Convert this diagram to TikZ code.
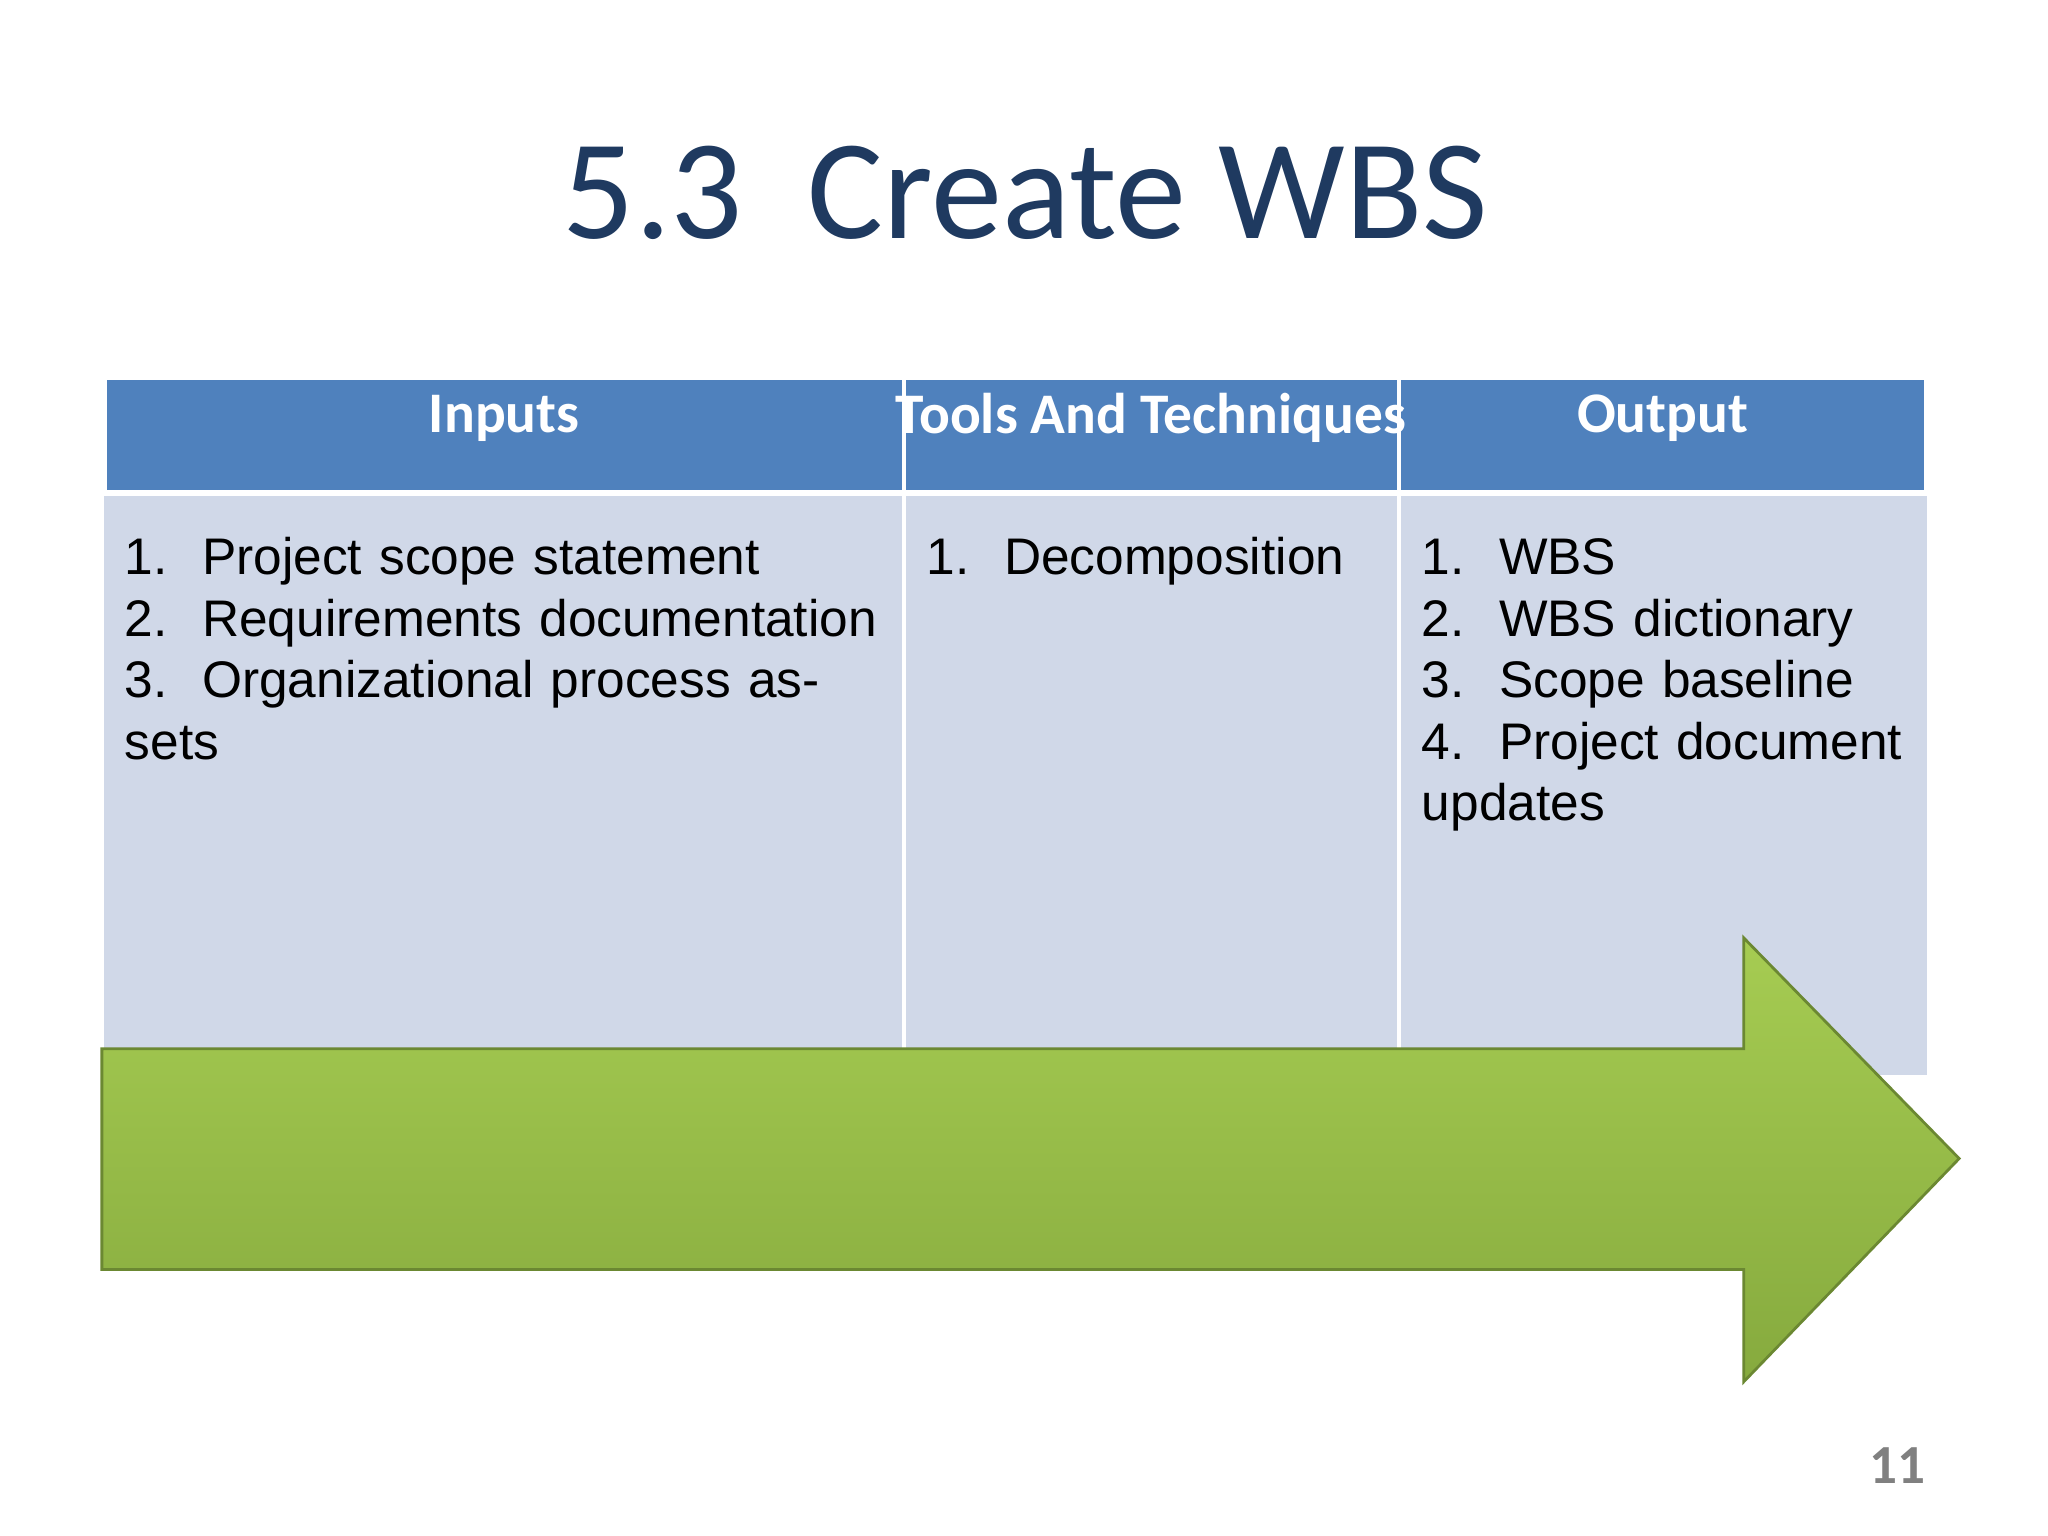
\documentclass[tikz,border=0pt]{standalone}
\usepackage{fontspec}
\setmainfont{Carlito}
\newfontfamily\arialf{Liberation Sans}
\usetikzlibrary{positioning}
\definecolor{titleblue}{HTML}{1F3A60}
\definecolor{headblue}{HTML}{4F81BD}
\definecolor{cellblue}{HTML}{D0D8E8}
\definecolor{arrowtop}{HTML}{A6CC52}
\definecolor{arrowbot}{HTML}{86AA3E}
\newcommand{\itm}[2]{\par\hangindent=0.59cm\hangafter=1\noindent\makebox[0.59cm][l]{#1.}#2}

\begin{document}
\begin{tikzpicture}[
            x = 0.01cm,
            y = -0.01cm,
            head/.style = {fill=headblue, draw=white, line width=1pt},
            cell/.style = {fill=cellblue, draw=white, line width=1pt},
            headtext/.style = {text=white, font=\bfseries\fontsize{12.5}{14}\selectfont},
            celltext/.style = {anchor=north west, align=left, inner sep=0pt,
                font=\arialf\fontsize{11.2}{13.4}\selectfont}
        ]
        \useasboundingbox[fill=white] (0,0) rectangle (1568,1176);
        \node[text=titleblue, font=\fontsize{31}{36}\selectfont] (title) at (785,148) {5.3\ \ Create WBS};

        % table
        \fill[cellblue] (80,380) rectangle (1475,823);
        \draw[head] (80,289) rectangle (692,377);
        \draw[head] (692,289) rectangle (1071,377);
        \draw[head] (1071,289) rectangle (1475,377);
        \draw[white, line width=1pt] (692,377) -- (692,823);
        \draw[white, line width=1pt] (1071,377) -- (1071,823);

        \node[headtext] (inputs) at (386,320) {Inputs};
        \node[headtext] (tools) at (881,320) {Tools And Techniques};
        \node[headtext] (output) at (1273,320) {Output};

        \node[celltext, text width=5.9cm] (inlist) at (95,392) {%
            \itm{1}{Project scope statement}
            \itm{2}{Requirements documentation}
            \itm{3}{Organizational process assets}};
        \node[celltext, text width=3.6cm] (toollist) at (709,392) {%
            \itm{1}{Decomposition}};
        \node[celltext, text width=3.8cm] (outlist) at (1088,392) {%
            \itm{1}{WBS}
            \itm{2}{WBS dictionary}
            \itm{3}{Scope baseline}
            \itm{4}{Project document updates}};

        % arrow
        \shade[top color=arrowtop, bottom color=arrowbot, draw=arrowbot!80!black, line width=0.6pt]
            (78,803) -- (1335,803) -- (1335,718) -- (1500,887) -- (1335,1058)
            -- (1335,972) -- (78,972) -- cycle;

        \node[text=gray, font=\bfseries\fontsize{12}{14}\selectfont] (page) at (1453,1122) {11};
\end{tikzpicture}
\end{document}
